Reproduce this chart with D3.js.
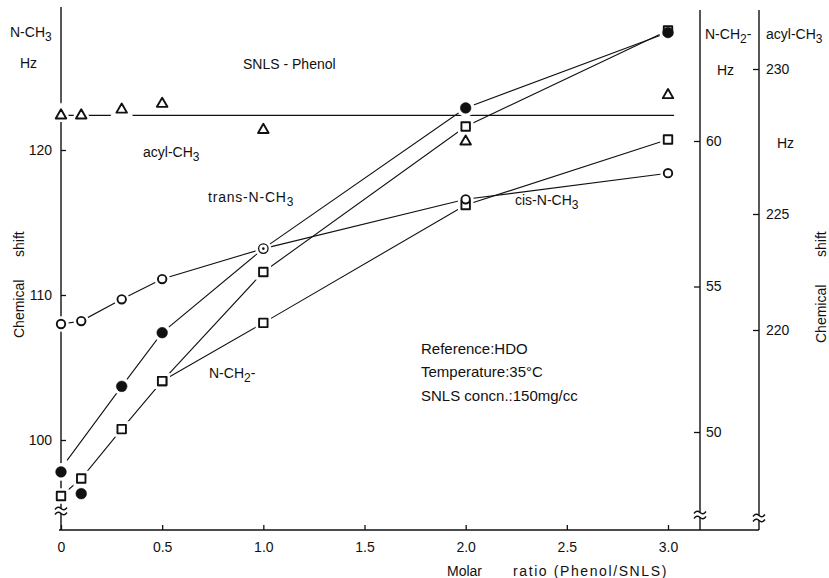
<!DOCTYPE html>
<html>
<head>
<meta charset="utf-8">
<script src="https://cdn.jsdelivr.net/npm/d3@7"></script>
<style>
  body { margin: 0; background: #fff; }
  svg text { font-family: "Liberation Sans", Arial, sans-serif; fill: #111; }
</style>
</head>
<body>
<svg id="chart" width="829" height="578"></svg>
<script>
// Molar ratio (Phenol/SNLS)
const molarRatio = [0, 0.1, 0.3, 0.5, 1.0, 2.0, 3.0];

// N-CH3 shifts, Hz (left axis)
const cisNCH3   = [108.0, 108.2, 109.7, 111.1, 113.2, 116.6, 118.4]; // open circles
const transNCH3 = [97.8, 96.3, 103.7, 107.4, 113.2, 122.9, 128.1];   // filled circles
// hand drawn curve for trans (does not pass the first two points)
const transFitX = [0.03, 0.3, 0.5, 1.0, 2.0, 3.0];
const transFitY = [98.6, 103.7, 107.4, 113.2, 122.9, 128.1];
const sharedIndex = 4; // cis and trans coincide at 1.0 (dotted circle)

// N-CH2- shifts, Hz (first right axis), squares
const nch2Upper = [47.8, 48.4, 50.1, 51.75, 55.5, 60.5, 63.8];
const nch2Lower = [47.8, 48.4, 50.1, 51.75, 53.75, 57.8, 60.05];
const lowerStart = 3; // lower branch leaves the upper one at 0.5

// acyl-CH3 shifts, Hz (second right axis), triangles
const acylCH3 = [228.4, 228.4, 228.6, 228.8, 227.9, 227.5, 229.1];
const acylLineX = [0, 3.03];
const acylLineY = [228.4, 228.4];

// tick labels
const xTicks = [0, 0.5, 1.0, 1.5, 2.0, 2.5, 3.0];
const leftTicks = [100, 110, 120];
const nch2Ticks = [50, 55, 60];
const acylTicks = [220, 225, 230];

const svg = d3.select("#chart");

// frame
const axL = 61, axN = 700, axA = 759, axB = 530;

const x  = d3.scaleLinear().domain([0, 3]).range([61, 668]);
const yL = d3.scaleLinear().domain([100, 120]).range([440, 150]);
const yN = d3.scaleLinear().domain([50, 60]).range([432, 141]);
const yA = d3.scaleLinear().domain([220, 225, 230]).range([330, 214, 69]);

const ink = "#111";

// axis lines
const frame = svg.append("g").attr("stroke", ink).attr("stroke-width", 1.4).attr("fill", "none");
frame.append("line").attr("x1", axL).attr("y1", 7).attr("x2", axL).attr("y2", axB);
frame.append("line").attr("x1", axL - 2).attr("y1", axB).attr("x2", axA).attr("y2", axB);
frame.append("line").attr("x1", axN).attr("y1", 10).attr("x2", axN).attr("y2", axB);
frame.append("line").attr("x1", axA).attr("y1", 10).attr("x2", axA).attr("y2", axB);

// axis breaks
function axisBreak(cx, cy) {
  const g = frame.append("g");
  g.append("rect").attr("x", cx - 3).attr("y", cy - 2).attr("width", 6).attr("height", 4)
    .attr("fill", "#fff").attr("stroke", "none");
  [-2.5, 2.5].forEach(dy => {
    g.append("path").attr("d", `M${cx - 6},${cy + dy + 1} q3,-4 6,-1 t6,-1`);
  });
}
axisBreak(axL, 511);
axisBreak(axN, 515);
axisBreak(axA, 518);

function styleAxis(g) {
  g.select(".domain").remove();
  g.attr("font-size", 14).attr("font-family", null);
  g.selectAll(".tick line").attr("stroke", ink).attr("stroke-width", 1.3);
}

svg.append("g")
  .attr("transform", `translate(${axL},0)`)
  .call(d3.axisLeft(yL).tickValues(leftTicks).tickSizeInner(-5).tickSizeOuter(0).tickPadding(9))
  .call(styleAxis);

svg.append("g")
  .attr("transform", `translate(0,${axB})`)
  .call(d3.axisBottom(x).tickValues(xTicks).tickSizeInner(-5).tickSizeOuter(0).tickPadding(12)
    .tickFormat(d => d === 0 ? "0" : d3.format(".1f")(d)))
  .call(styleAxis);

svg.append("g")
  .attr("transform", `translate(${axN},0)`)
  .call(d3.axisRight(yN).tickValues(nch2Ticks).tickSizeInner(-6).tickSizeOuter(0).tickPadding(6))
  .call(styleAxis);

svg.append("g")
  .attr("transform", `translate(${axA},0)`)
  .call(d3.axisRight(yA).tickValues(acylTicks).tickSizeInner(-6).tickSizeOuter(0).tickPadding(7))
  .call(styleAxis);

// curves
const straight = d3.line().x(d => x(d[0])).y(d => d[1]);
const lines = svg.append("g").attr("fill", "none").attr("stroke", ink).attr("stroke-width", 1.1);

lines.append("path").attr("d", straight(molarRatio.map((m, i) => [m, yL(cisNCH3[i])])));
lines.append("path").attr("d", straight(transFitX.map((m, i) => [m, yL(transFitY[i])])));
lines.append("path").attr("d", straight(molarRatio.map((m, i) => [m, yN(nch2Upper[i])])));
lines.append("path").attr("d", straight(molarRatio.slice(lowerStart).map((m, i) => [m, yN(nch2Lower[i + lowerStart])])));
lines.append("path").attr("d", straight(acylLineX.map((m, i) => [m, yA(acylLineY[i])])));

// markers
const marks = [];
molarRatio.forEach((m, i) => {
  marks.push({ m, y: yA(acylCH3[i]), type: "triangle" });
  marks.push({ m, y: yN(nch2Upper[i]), type: "square" });
  if (i >= lowerStart) marks.push({ m, y: yN(nch2Lower[i]), type: "square" });
  marks.push({ m, y: yL(cisNCH3[i]), type: i === sharedIndex ? "dotted" : "open" });
  if (i !== sharedIndex) marks.push({ m, y: yL(transNCH3[i]), type: "filled" });
});

const shapes = {
  triangle: d3.symbol(d3.symbolTriangle, 48)(),
  square: d3.symbol(d3.symbolSquare, 72)(),
  open: d3.symbol(d3.symbolCircle, 56)(),
  dotted: d3.symbol(d3.symbolCircle, 70)(),
  filled: d3.symbol(d3.symbolCircle, 90)()
};

const mg = svg.append("g");
// white halos leave small gaps in the curves next to each symbol
mg.selectAll("path.halo").data(marks).join("path")
  .attr("class", "halo")
  .attr("transform", d => `translate(${x(d.m)},${d.y})`)
  .attr("d", d => shapes[d.type])
  .attr("fill", "#fff").attr("stroke", "#fff").attr("stroke-width", 7);

mg.selectAll("path.mark").data(marks).join("path")
  .attr("class", "mark")
  .attr("transform", d => `translate(${x(d.m)},${d.y})`)
  .attr("d", d => shapes[d.type])
  .attr("fill", d => d.type === "filled" ? ink : "#fff")
  .attr("stroke", ink)
  .attr("stroke-width", d => d.type === "filled" ? 0.5 : (d.type === "dotted" ? 1.3 : 1.9))
  .attr("stroke-linejoin", "round");

mg.selectAll("circle.dot").data(marks.filter(d => d.type === "dotted")).join("circle")
  .attr("class", "dot")
  .attr("cx", d => x(d.m)).attr("cy", d => d.y).attr("r", 1.3).attr("fill", ink);

// texts
function label(px, py, parts, opts = {}) {
  const size = opts.size || 14;
  const t = svg.append("text").attr("x", px).attr("y", py).attr("font-size", size);
  if (opts.ls) t.attr("letter-spacing", opts.ls);
  let shifted = false;
  parts.forEach(p => {
    if (typeof p === "string") {
      const s = t.append("tspan").text(p);
      if (shifted) { s.attr("dy", -4); shifted = false; }
    } else {
      t.append("tspan").attr("dy", 4).attr("font-size", size - 2).text(p.sub);
      shifted = true;
    }
  });
  return t;
}

label(10, 37, ["N-CH", { sub: "3" }]);
label(20, 68, ["Hz"]);
label(243, 69, ["SNLS - Phenol"]);
label(143, 157, ["acyl-CH", { sub: "3" }]);
label(208, 202, ["trans-N-CH", { sub: "3" }], { ls: 0.8 });
label(515, 205, ["cis-N-CH", { sub: "3" }]);
label(209, 378, ["N-CH", { sub: "2" }, "-"]);
label(421, 354, ["Reference:HDO"], { size: 15 });
label(421, 377, ["Temperature:35°C"], { size: 15 });
label(421, 401, ["SNLS concn.:150mg/cc"], { size: 15 });

label(705, 39, ["N-CH", { sub: "2" }, "-"]);
label(766, 39, ["acyl-CH", { sub: "3" }]);
label(717, 75, ["Hz"]);
label(777, 148, ["Hz"]);

label(447, 576, ["Molar"]);
label(513, 576, ["ratio (Phenol/SNLS)"], { ls: 1.6 });

// rotated axis titles
function vtitle(bx, parts) {
  parts.forEach(([txt, yStart]) => {
    svg.append("text")
      .attr("transform", `translate(${bx},${yStart}) rotate(-90)`)
      .attr("font-size", 14)
      .text(txt);
  });
}
vtitle(24, [["Chemical", 338], ["shift", 257]]);
vtitle(826, [["Chemical", 343], ["shift", 257]]);
</script>
</body>
</html>
